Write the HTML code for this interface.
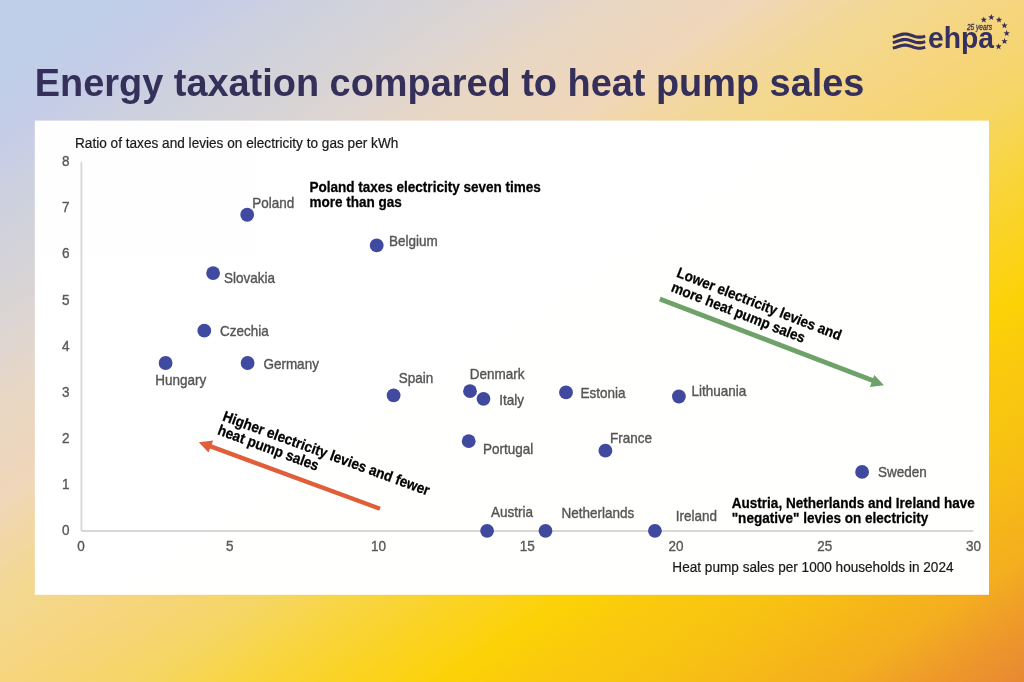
<!DOCTYPE html>
<html>
<head>
<meta charset="utf-8">
<style>
html,body{margin:0;padding:0;}
body{width:1024px;height:682px;overflow:hidden;position:relative;
background:linear-gradient(to bottom right,#bfcfe9 0%,#bfcfe9 5.3%,#c5cce7 10.1%,#cdd1de 15.1%,#d5d3d8 19.9%,#d8d4d4 22.4%,#ded5d2 24.8%,#e8d7c3 29.9%,#eed6bd 34.5%,#f0d7b8 37%,#f2d7a8 39.4%,#f3d890 44.3%,#f6d57e 50%,#f6d578 52%,#f6d664 56.8%,#f8d544 61%,#fbd322 66.7%,#fbd206 71.7%,#fac90e 76.4%,#f8c312 81.3%,#f6b818 86.4%,#f4ae1f 91%,#f0a226 93.5%,#ed952c 96.4%,#e88833 100%);
font-family:"Liberation Sans",sans-serif;}
svg{position:absolute;left:0;top:0;will-change:transform;opacity:0.999;}
</style>
</head>
<body>

<svg width="1024" height="682" viewBox="0 0 1024 682" font-family="Liberation Sans, sans-serif">
<rect x="34.8" y="120.6" width="954.2" height="474.2" fill="#fff"/>
<text x="34.8" y="96.3" font-size="37.9" font-weight="bold" fill="#35305a">Energy taxation compared to heat pump sales</text>
<g fill="none" stroke="#35305e" stroke-width="3.1" stroke-linecap="butt">
<path d="M892.80,36.96 L893.96,36.74 L895.11,36.44 L896.27,36.09 L897.43,35.71 L898.59,35.32 L899.74,34.95 L900.90,34.62 L902.06,34.35 L903.21,34.16 L904.37,34.06 L905.53,34.06 L906.69,34.15 L907.84,34.33 L909.00,34.60 L910.16,34.92 L911.31,35.29 L912.47,35.67 L913.63,36.06 L914.79,36.41 L915.94,36.71 L917.10,36.95 L918.26,37.09 L919.41,37.15 L920.57,37.11 L921.73,36.97 L922.89,36.75 L924.04,36.46 L925.20,36.11"/>
<path d="M892.80,42.46 L893.96,42.24 L895.11,41.94 L896.27,41.59 L897.43,41.21 L898.59,40.82 L899.74,40.45 L900.90,40.12 L902.06,39.85 L903.21,39.66 L904.37,39.56 L905.53,39.56 L906.69,39.65 L907.84,39.83 L909.00,40.10 L910.16,40.42 L911.31,40.79 L912.47,41.17 L913.63,41.56 L914.79,41.91 L915.94,42.21 L917.10,42.45 L918.26,42.59 L919.41,42.65 L920.57,42.61 L921.73,42.47 L922.89,42.25 L924.04,41.96 L925.20,41.61"/>
<path d="M892.80,48.06 L893.96,47.84 L895.11,47.54 L896.27,47.19 L897.43,46.81 L898.59,46.42 L899.74,46.05 L900.90,45.72 L902.06,45.45 L903.21,45.26 L904.37,45.16 L905.53,45.16 L906.69,45.25 L907.84,45.43 L909.00,45.70 L910.16,46.02 L911.31,46.39 L912.47,46.77 L913.63,47.16 L914.79,47.51 L915.94,47.81 L917.10,48.05 L918.26,48.19 L919.41,48.25 L920.57,48.21 L921.73,48.07 L922.89,47.85 L924.04,47.56 L925.20,47.21"/>
</g>
<text x="928" y="48.2" font-size="30" font-weight="bold" fill="#35305e" textLength="66" lengthAdjust="spacingAndGlyphs">ehpa</text>
<text x="967" y="29.8" font-size="8.5" font-style="italic" stroke="#35305e" stroke-width="0.3" fill="#35305e" textLength="25" lengthAdjust="spacingAndGlyphs">25 years</text>
<g fill="#35305e">
<path d="M983.80,16.50 L984.62,18.67 L986.94,18.78 L985.13,20.23 L985.74,22.47 L983.80,21.20 L981.86,22.47 L982.47,20.23 L980.66,18.78 L982.98,18.67Z"/>
<path d="M991.30,14.10 L992.12,16.27 L994.44,16.38 L992.63,17.83 L993.24,20.07 L991.30,18.80 L989.36,20.07 L989.97,17.83 L988.16,16.38 L990.48,16.27Z"/>
<path d="M999.00,16.60 L999.82,18.77 L1002.14,18.88 L1000.33,20.33 L1000.94,22.57 L999.00,21.30 L997.06,22.57 L997.67,20.33 L995.86,18.88 L998.18,18.77Z"/>
<path d="M1004.50,22.30 L1005.32,24.47 L1007.64,24.58 L1005.83,26.03 L1006.44,28.27 L1004.50,27.00 L1002.56,28.27 L1003.17,26.03 L1001.36,24.58 L1003.68,24.47Z"/>
<path d="M1006.70,30.00 L1007.52,32.17 L1009.84,32.28 L1008.03,33.73 L1008.64,35.97 L1006.70,34.70 L1004.76,35.97 L1005.37,33.73 L1003.56,32.28 L1005.88,32.17Z"/>
<path d="M1004.50,38.00 L1005.32,40.17 L1007.64,40.28 L1005.83,41.73 L1006.44,43.97 L1004.50,42.70 L1002.56,43.97 L1003.17,41.73 L1001.36,40.28 L1003.68,40.17Z"/>
<path d="M998.60,43.20 L999.42,45.37 L1001.74,45.48 L999.93,46.93 L1000.54,49.17 L998.60,47.90 L996.66,49.17 L997.27,46.93 L995.46,45.48 L997.78,45.37Z"/>
</g>
<g stroke="#d7d7d7" stroke-width="1.8"><line x1="81.4" y1="162" x2="81.4" y2="531"/><line x1="81.4" y1="531" x2="973.5" y2="531"/></g>
<text transform="translate(75 147.7) scale(1 1.09)" font-size="13.64" fill="#1a1a1a" stroke="#1a1a1a" stroke-width="0.2">Ratio of taxes and levies on electricity to gas per kWh</text>
<text transform="translate(953.5 571.7) scale(1 1.09)" font-size="13.6" fill="#1a1a1a" text-anchor="end" stroke="#1a1a1a" stroke-width="0.2">Heat pump sales per 1000 households in 2024</text>
<text transform="translate(69.5 535.0) scale(1 1.09)" font-size="13.5" fill="#595959" text-anchor="end" stroke="#595959" stroke-width="0.35">0</text>
<text transform="translate(69.5 488.9) scale(1 1.09)" font-size="13.5" fill="#595959" text-anchor="end" stroke="#595959" stroke-width="0.35">1</text>
<text transform="translate(69.5 442.8) scale(1 1.09)" font-size="13.5" fill="#595959" text-anchor="end" stroke="#595959" stroke-width="0.35">2</text>
<text transform="translate(69.5 396.7) scale(1 1.09)" font-size="13.5" fill="#595959" text-anchor="end" stroke="#595959" stroke-width="0.35">3</text>
<text transform="translate(69.5 350.6) scale(1 1.09)" font-size="13.5" fill="#595959" text-anchor="end" stroke="#595959" stroke-width="0.35">4</text>
<text transform="translate(69.5 304.5) scale(1 1.09)" font-size="13.5" fill="#595959" text-anchor="end" stroke="#595959" stroke-width="0.35">5</text>
<text transform="translate(69.5 258.4) scale(1 1.09)" font-size="13.5" fill="#595959" text-anchor="end" stroke="#595959" stroke-width="0.35">6</text>
<text transform="translate(69.5 212.3) scale(1 1.09)" font-size="13.5" fill="#595959" text-anchor="end" stroke="#595959" stroke-width="0.35">7</text>
<text transform="translate(69.5 166.2) scale(1 1.09)" font-size="13.5" fill="#595959" text-anchor="end" stroke="#595959" stroke-width="0.35">8</text>
<text transform="translate(81.0 551.3) scale(1 1.09)" font-size="13.5" fill="#595959" text-anchor="middle" stroke="#595959" stroke-width="0.35">0</text>
<text transform="translate(229.75 551.3) scale(1 1.09)" font-size="13.5" fill="#595959" text-anchor="middle" stroke="#595959" stroke-width="0.35">5</text>
<text transform="translate(378.5 551.3) scale(1 1.09)" font-size="13.5" fill="#595959" text-anchor="middle" stroke="#595959" stroke-width="0.35">10</text>
<text transform="translate(527.25 551.3) scale(1 1.09)" font-size="13.5" fill="#595959" text-anchor="middle" stroke="#595959" stroke-width="0.35">15</text>
<text transform="translate(676.0 551.3) scale(1 1.09)" font-size="13.5" fill="#595959" text-anchor="middle" stroke="#595959" stroke-width="0.35">20</text>
<text transform="translate(824.75 551.3) scale(1 1.09)" font-size="13.5" fill="#595959" text-anchor="middle" stroke="#595959" stroke-width="0.35">25</text>
<text transform="translate(973.5 551.3) scale(1 1.09)" font-size="13.5" fill="#595959" text-anchor="middle" stroke="#595959" stroke-width="0.35">30</text>
<g fill="#3f4aa0"><circle cx="247.2" cy="214.75" r="6.9"/><circle cx="213.1" cy="273.1" r="6.9"/><circle cx="376.7" cy="245.4" r="6.9"/><circle cx="204.3" cy="330.7" r="6.9"/><circle cx="165.6" cy="363" r="6.9"/><circle cx="247.6" cy="363" r="6.9"/><circle cx="393.6" cy="395.4" r="6.9"/><circle cx="470" cy="391.2" r="6.9"/><circle cx="483.5" cy="398.8" r="6.9"/><circle cx="468.7" cy="441.2" r="6.9"/><circle cx="566" cy="392.4" r="6.9"/><circle cx="678.9" cy="396.5" r="6.9"/><circle cx="605.4" cy="450.7" r="6.9"/><circle cx="862.1" cy="471.9" r="6.9"/><circle cx="487.1" cy="530.8" r="6.9"/><circle cx="545.5" cy="530.8" r="6.9"/><circle cx="654.9" cy="530.8" r="6.9"/></g>
<text transform="translate(252.2 208.2) scale(1 1.09)" font-size="13.5" fill="#555555" stroke="#555555" stroke-width="0.35">Poland</text>
<text transform="translate(224.0 283) scale(1 1.09)" font-size="13.5" fill="#555555" stroke="#555555" stroke-width="0.35">Slovakia</text>
<text transform="translate(389.0 246.2) scale(1 1.09)" font-size="13.5" fill="#555555" stroke="#555555" stroke-width="0.35">Belgium</text>
<text transform="translate(219.9 336) scale(1 1.09)" font-size="13.5" fill="#555555" stroke="#555555" stroke-width="0.35">Czechia</text>
<text transform="translate(155.2 384.8) scale(1 1.09)" font-size="13.5" fill="#555555" stroke="#555555" stroke-width="0.35">Hungary</text>
<text transform="translate(263.4 368.6) scale(1 1.09)" font-size="13.5" fill="#555555" stroke="#555555" stroke-width="0.35">Germany</text>
<text transform="translate(398.8 383) scale(1 1.09)" font-size="13.5" fill="#555555" stroke="#555555" stroke-width="0.35">Spain</text>
<text transform="translate(469.8 378.6) scale(1 1.09)" font-size="13.5" fill="#555555" stroke="#555555" stroke-width="0.35">Denmark</text>
<text transform="translate(499.3 405.3) scale(1 1.09)" font-size="13.5" fill="#555555" stroke="#555555" stroke-width="0.35">Italy</text>
<text transform="translate(482.9 453.75) scale(1 1.09)" font-size="13.5" fill="#555555" stroke="#555555" stroke-width="0.35">Portugal</text>
<text transform="translate(580.6 397.9) scale(1 1.09)" font-size="13.5" fill="#555555" stroke="#555555" stroke-width="0.35">Estonia</text>
<text transform="translate(691.6 396) scale(1 1.09)" font-size="13.5" fill="#555555" stroke="#555555" stroke-width="0.35">Lithuania</text>
<text transform="translate(610.1 443) scale(1 1.09)" font-size="13.5" fill="#555555" stroke="#555555" stroke-width="0.35">France</text>
<text transform="translate(878.0 477.2) scale(1 1.09)" font-size="13.5" fill="#555555" stroke="#555555" stroke-width="0.35">Sweden</text>
<text transform="translate(491.1 517.3) scale(1 1.09)" font-size="13.5" fill="#555555" stroke="#555555" stroke-width="0.35">Austria</text>
<text transform="translate(561.6 518.4) scale(1 1.09)" font-size="13.5" fill="#555555" stroke="#555555" stroke-width="0.35">Netherlands</text>
<text transform="translate(675.8 521.2) scale(1 1.09)" font-size="13.5" fill="#555555" stroke="#555555" stroke-width="0.35">Ireland</text>
<text transform="translate(309.4 192) scale(1 1.09)" font-size="13.53" fill="#000" font-weight="bold" stroke="#000" stroke-width="0.25">Poland taxes electricity seven times</text>
<text transform="translate(309.4 206.8) scale(1 1.09)" font-size="13.53" fill="#000" font-weight="bold" stroke="#000" stroke-width="0.25">more than gas</text>
<text transform="translate(731.7 507.9) scale(1 1.09)" font-size="13.56" fill="#000" font-weight="bold" stroke="#000" stroke-width="0.25">Austria, Netherlands and Ireland have</text>
<text transform="translate(731.7 523) scale(1 1.09)" font-size="13.56" fill="#000" font-weight="bold" stroke="#000" stroke-width="0.25">"negative" levies on electricity</text>
<line x1="380" y1="508.7" x2="208" y2="445.4" stroke="#e05f3a" stroke-width="4.4"/>
<path d="M198.8,442.3 L213.2,440.5 L208.5,452.6 Z" fill="#e05f3a"/>
<g transform="translate(221.8 420.2) rotate(20.15)"><text transform="translate(0 0) scale(1 1.09)" font-size="13.6" fill="#000" font-weight="bold" stroke="#000" stroke-width="0.25">Higher electricity levies and fewer</text><text transform="translate(0 14.8) scale(1 1.09)" font-size="13.6" fill="#000" font-weight="bold" stroke="#000" stroke-width="0.25">heat pump sales</text></g>
<line x1="659.8" y1="299" x2="874" y2="381" stroke="#6ea26a" stroke-width="4.7"/>
<path d="M884,385.2 L874.3,374.9 L869.9,387 Z" fill="#6ea26a"/>
<g transform="translate(675.8 276.6) rotate(21.4)"><text transform="translate(0 0) scale(1 1.09)" font-size="13.5" fill="#000" font-weight="bold" stroke="#000" stroke-width="0.25">Lower electricity levies and</text><text transform="translate(0 15.5) scale(1 1.09)" font-size="13.5" fill="#000" font-weight="bold" stroke="#000" stroke-width="0.25">more heat pump sales</text></g>
</svg>
</body>
</html>
